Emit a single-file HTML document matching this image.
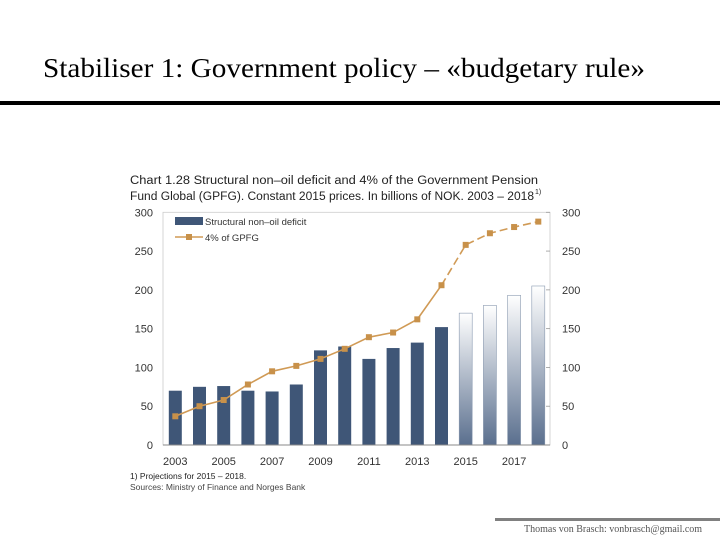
<!DOCTYPE html>
<html><head><meta charset="utf-8"><style>
html,body{margin:0;padding:0;background:#fff;}
svg{display:block;}
</style></head><body>
<svg id="s" width="720" height="540" viewBox="0 0 720 540" xmlns="http://www.w3.org/2000/svg">
<defs>
<linearGradient id="proj" x1="0" y1="0" x2="0" y2="1">
<stop offset="0" stop-color="#ffffff"/><stop offset="1" stop-color="#5a6f8e"/>
</linearGradient>
</defs>
<text x="43" y="77" font-family="Liberation Serif, serif" font-size="27" textLength="602" lengthAdjust="spacingAndGlyphs" fill="#000">Stabiliser 1: Government policy – «budgetary rule»</text>
<rect x="0" y="101" width="720" height="4" fill="#000"/>
<text x="130" y="184" font-family="Liberation Sans, sans-serif" font-size="11.5" fill="#222" textLength="408" lengthAdjust="spacingAndGlyphs">Chart 1.28 Structural non–oil deficit and 4% of the Government Pension</text>
<text x="130" y="200" font-family="Liberation Sans, sans-serif" font-size="11.5" fill="#222" textLength="404" lengthAdjust="spacingAndGlyphs">Fund Global (GPFG). Constant 2015 prices. In billions of NOK. 2003 – 2018</text>
<text x="535" y="194" font-family="Liberation Sans, sans-serif" font-size="7" fill="#222">1)</text>
<g id="plot"></g>
<text x="130" y="479" font-family="Liberation Sans, sans-serif" font-size="8.5" fill="#222">1) Projections for 2015 – 2018.</text>
<text x="130" y="490" font-family="Liberation Sans, sans-serif" font-size="8.5" fill="#444">Sources: Ministry of Finance and Norges Bank</text>
<rect x="495" y="518" width="225" height="3" fill="#808080"/>
<text x="524" y="532" font-family="Liberation Serif, serif" font-size="10" fill="#555">Thomas von Brasch: vonbrasch@gmail.com</text>
</svg>
<script>
const years = [2003,2004,2005,2006,2007,2008,2009,2010,2011,2012,2013,2014,2015,2016,2017,2018];
const deficit = [70,75,76,70,69,78,122,127,111,125,132,152,170,180,193,205];
const gpfg = [37,50,58,78,95,102,111,124,139,145,162,206,258,273,281,288];
const yTicks = [0,50,100,150,200,250,300];
const xLabels = [2003,2005,2007,2009,2011,2013,2015,2017];
const firstProjection = 2015;

const NS="http://www.w3.org/2000/svg";
const g=document.getElementById('plot');
const L=163,R=550,T=212.3,B=445;
const ymax=300;
const y=v=>B-(v/ymax)*(B-T);
const x=yr=>175.3+(yr-2003)*24.2;
function mk(t,a){const e=document.createElementNS(NS,t);for(const k in a)e.setAttribute(k,a[k]);g.appendChild(e);return e;}
let e;
e=mk('rect',{x:L,y:T,width:R-L,height:B-T,fill:'#fff',stroke:'#ccc','stroke-width':0.8});


yTicks.forEach(v=>{
  e=mk('text',{x:L-10,y:y(v)+4,'text-anchor':'end','font-family':'Liberation Sans, sans-serif','font-size':11,fill:'#333'});e.textContent=v;
  
  
  e=mk('text',{x:R+12,y:y(v)+4,'font-family':'Liberation Sans, sans-serif','font-size':11,fill:'#333'});e.textContent=v;
  
  
  e=mk('line',{x1:R-4,x2:R,y1:y(v),y2:y(v),stroke:'#999','stroke-width':0.8});
  
  
});
xLabels.forEach(yr=>{
  e=mk('text',{x:x(yr),y:B+20,'text-anchor':'middle','font-family':'Liberation Sans, sans-serif','font-size':11,fill:'#333'});e.textContent=yr;
  
  
});
years.forEach((yr,i)=>{
  const proj=yr>=firstProjection;
  e=mk('rect',{x:x(yr)-6.5,y:y(deficit[i]),width:13,height:B-y(deficit[i]),fill:proj?'url(#proj)':'#3f5677',stroke:proj?'#8a9ab0':'none','stroke-width':0.6});
  
  
});
e=mk('line',{x1:L,x2:R,y1:B,y2:B,stroke:'#888','stroke-width':1});


const solid=[],dash=[];
years.forEach((yr,i)=>{const p=x(yr)+','+y(gpfg[i]);if(yr<firstProjection)solid.push(p);if(yr>=firstProjection-1)dash.push(p);});
e=mk('polyline',{points:solid.join(' '),fill:'none',stroke:'#d09a55','stroke-width':1.6});


e=mk('polyline',{points:dash.join(' '),fill:'none',stroke:'#d09a55','stroke-width':1.6,'stroke-dasharray':'8,4'});


years.forEach((yr,i)=>{
  e=mk('rect',{x:x(yr)-3,y:y(gpfg[i])-3,width:6,height:6,fill:'#c8914a'});
  
  
});
// legend
e=mk('rect',{x:175,y:217,width:28,height:8,fill:'#3f5677'});


e=mk('text',{x:205,y:225,'font-family':'Liberation Sans, sans-serif','font-size':9.5,fill:'#333'});e.textContent='Structural non–oil deficit';


e=mk('line',{x1:175,x2:203,y1:237,y2:237,stroke:'#d09a55','stroke-width':1.5});


e=mk('rect',{x:186,y:234,width:6,height:6,fill:'#c8914a'});


e=mk('text',{x:205,y:241,'font-family':'Liberation Sans, sans-serif','font-size':9.5,fill:'#333'});e.textContent='4% of GPFG';


</script>
</body></html>
